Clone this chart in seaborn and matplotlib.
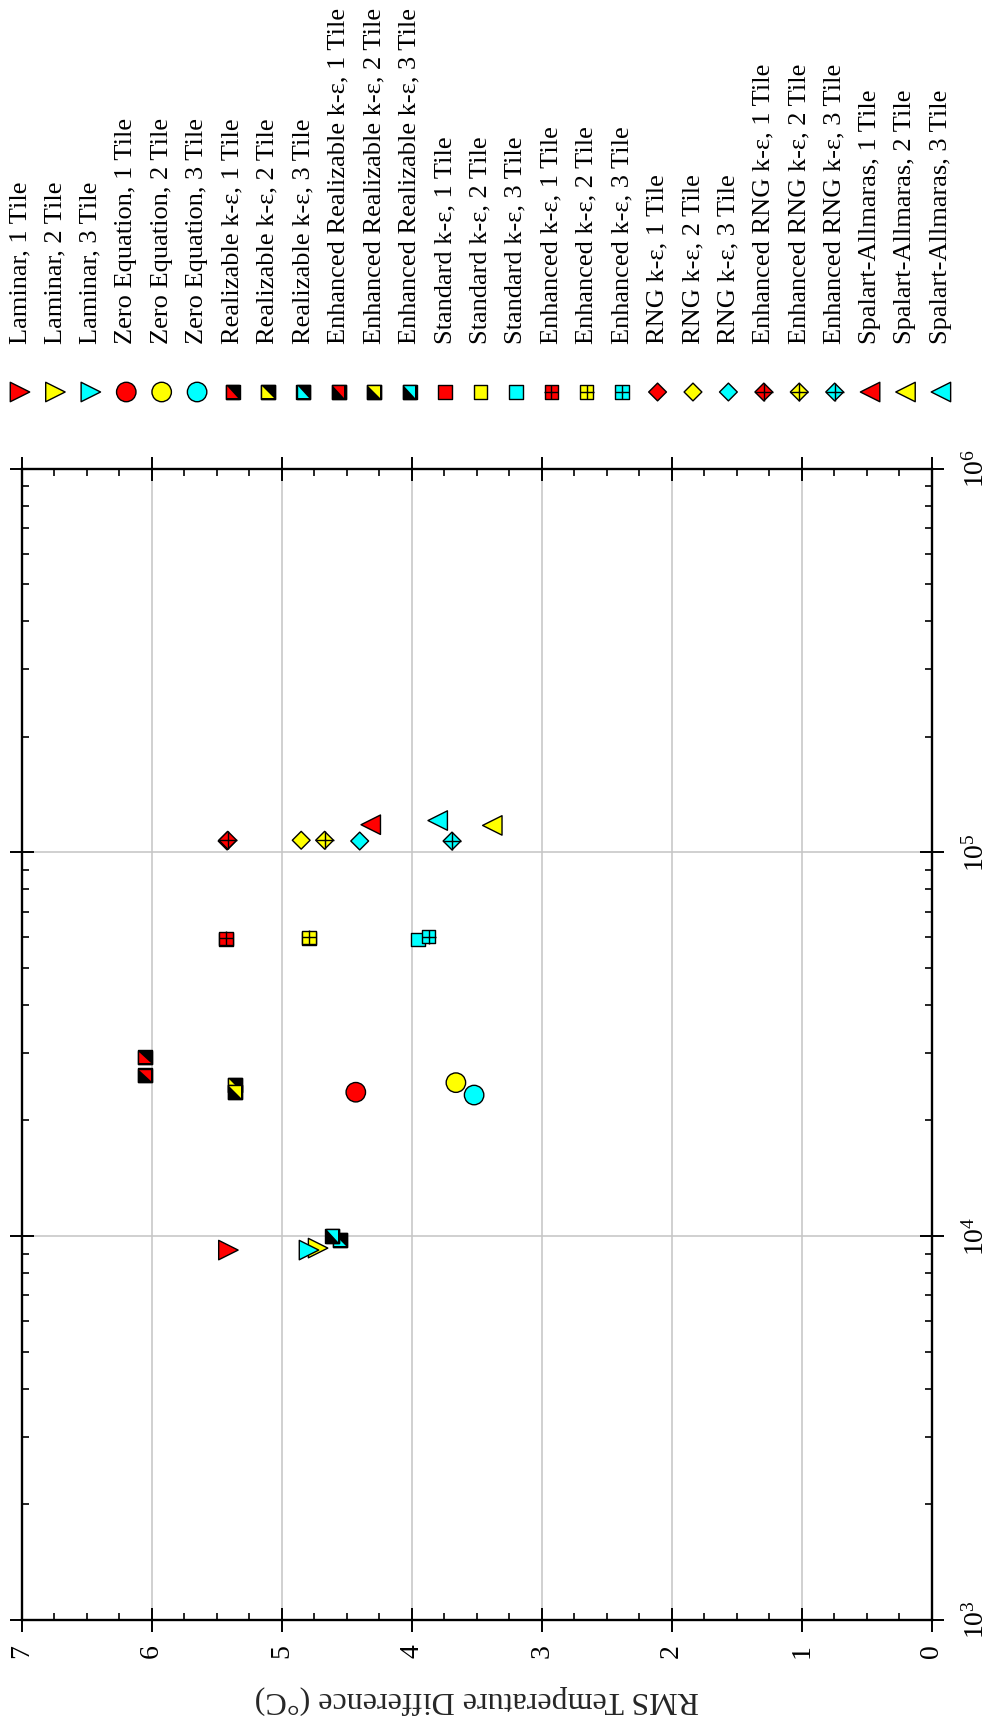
import numpy as np
import pandas as pd
import matplotlib
matplotlib.use("Agg")
import matplotlib.pyplot as plt
from matplotlib.path import Path
from matplotlib.ticker import MultipleLocator, LogLocator, NullFormatter
import seaborn as sns

# ---------------------------------------------------------------- data
tiles = ["1 Tile", "2 Tile", "3 Tile"]
tile_colors = ["#ff0000", "#ffff00", "#00ffff"]

model_names = ["Laminar", "Zero Equation", "Realizable k-\u03b5",
               "Enhanced Realizable k-\u03b5", "Standard k-\u03b5",
               "Enhanced k-\u03b5", "RNG k-\u03b5", "Enhanced RNG k-\u03b5",
               "Spalart-Allmaras"]
model_kinds = ["tri_right", "circle", "half_low", "half_up", "square",
               "square_plus", "diamond", "diamond_plus", "tri_left"]

# Reynolds number and RMS temperature difference (degC), tiles 1, 2, 3
laminar_re = [9.19e3, 9.30e3, 9.19e3]
laminar_rms = [5.41, 4.72, 4.79]
zero_eq_re = [2.37e4, 2.51e4, 2.33e4]
zero_eq_rms = [4.43, 3.66, 3.52]
realizable_re = [2.92e4, 2.475e4, 9.77e3]
realizable_rms = [6.05, 5.36, 4.55]
enh_realizable_re = [2.62e4, 2.37e4, 1.00e4]
enh_realizable_rms = [6.05, 5.36, 4.61]
standard_re = [5.92e4, 5.97e4, 5.92e4]
standard_rms = [5.43, 4.79, 3.95]
enh_standard_re = [5.97e4, 6.00e4, 6.03e4]
enh_standard_rms = [5.43, 4.79, 3.87]
rng_re = [1.07e5, 1.075e5, 1.07e5]
rng_rms = [5.42, 4.85, 4.40]
enh_rng_re = [1.075e5, 1.075e5, 1.07e5]
enh_rng_rms = [5.415, 4.67, 3.69]
sa_re = [1.18e5, 1.175e5, 1.21e5]
sa_rms = [4.315, 3.38, 3.80]

model_re = [laminar_re, zero_eq_re, realizable_re, enh_realizable_re,
            standard_re, enh_standard_re, rng_re, enh_rng_re, sa_re]
model_rms = [laminar_rms, zero_eq_rms, realizable_rms, enh_realizable_rms,
             standard_rms, enh_standard_rms, rng_rms, enh_rng_rms, sa_rms]

rms_ticks = [0, 1, 2, 3, 4, 5, 6, 7]
rms_tick_labels = ["0", "1", "2", "3", "4", "5", "6", "7"]
re_ticks = [1e3, 1e4, 1e5, 1e6]
re_tick_labels = [r"$10^{3}$", r"$10^{4}$", r"$10^{5}$", r"$10^{6}$"]
rms_label = "RMS Temperature Difference (\u00b0C)"

# ---------------------------------------------------------------- style
sns.set_style("white")
plt.rcParams["font.family"] = ["Liberation Serif", "DejaVu Serif"]
plt.rcParams["mathtext.fontset"] = "custom"
plt.rcParams["mathtext.rm"] = "Liberation Serif"
plt.rcParams["mathtext.it"] = "Liberation Serif:italic"
plt.rcParams["mathtext.bf"] = "Liberation Serif:bold"

EDGE_LW = 1.0
S_TRI = 196
S_CIRC = 196
S_SQ = 94
S_DIA = 82
S_DIA_PLUS = 164

# triangles covering half of a square, split along the "\" diagonal
LOWER_LEFT = Path([(-1, 1), (-1, -1), (1, -1), (-1, 1)],
                  [Path.MOVETO, Path.LINETO, Path.LINETO, Path.CLOSEPOLY])
UPPER_RIGHT = Path([(-1, 1), (1, 1), (1, -1), (-1, 1)],
                   [Path.MOVETO, Path.LINETO, Path.LINETO, Path.CLOSEPOLY])


def draw_markers(ax, xs, ys, kind, z=3):
    df = pd.DataFrame({"x": xs, "y": ys, "tile": tiles[:len(xs)]})
    pal = dict(zip(tiles, tile_colors))

    def colored(marker, s, lw=EDGE_LW, ec="black"):
        sns.scatterplot(data=df, x="x", y="y", hue="tile", palette=pal,
                        marker=marker, s=s, edgecolor=ec, linewidth=lw,
                        legend=False, ax=ax, zorder=z, clip_on=False)

    if kind == "tri_right":
        colored(">", S_TRI)
    elif kind == "tri_left":
        colored("<", S_TRI)
    elif kind == "circle":
        colored("o", S_CIRC)
    elif kind == "square":
        colored("s", S_SQ)
    elif kind == "diamond":
        colored("D", S_DIA)
    elif kind == "square_plus":
        colored("s", S_SQ)
        ax.scatter(df["x"], df["y"], marker="+", s=S_SQ, c="black",
                   linewidths=EDGE_LW, zorder=z, clip_on=False)
    elif kind == "diamond_plus":
        colored("D", S_DIA)
        ax.scatter(df["x"], df["y"], marker="+", s=S_DIA_PLUS, c="black",
                   linewidths=EDGE_LW, zorder=z, clip_on=False)
    elif kind in ("half_low", "half_up"):
        sns.scatterplot(data=df, x="x", y="y", color="black", marker="s",
                        s=S_SQ, edgecolor="black", linewidth=EDGE_LW,
                        legend=False, ax=ax, zorder=z, clip_on=False)
        tri = LOWER_LEFT if kind == "half_low" else UPPER_RIGHT
        colored(tri, S_SQ * 0.72, lw=0, ec="none")
        ax.scatter(df["x"], df["y"], marker="s", s=S_SQ, facecolors="none",
                   edgecolors="black", linewidths=EDGE_LW, zorder=z,
                   clip_on=False)


# ---------------------------------------------------------------- figure
W, H = 996, 1726
fig = plt.figure(figsize=(W / 100, H / 100), dpi=100)

ax_l, ax_r, ax_t, ax_b = 21.7, 931.7, 468.6, 1619.7
ax = fig.add_axes([ax_l / W, 1 - ax_b / H, (ax_r - ax_l) / W,
                   (ax_b - ax_t) / H])

for i, (kind, xs, ys) in enumerate(zip(model_kinds, model_rms, model_re)):
    draw_markers(ax, xs, ys, kind, z=3 + i * 0.1)

ax.set_yscale("log")
ax.set_xlim(7, 0)
ax.set_ylim(1e3, 1e6)
ax.set_xticks(rms_ticks)
ax.set_xticklabels(rms_tick_labels)
ax.xaxis.set_minor_locator(MultipleLocator(0.25))
ax.set_yticks(re_ticks)
ax.set_yticklabels(re_tick_labels)
ax.yaxis.set_minor_locator(LogLocator(base=10, subs=np.arange(2, 10)))
ax.yaxis.set_minor_formatter(NullFormatter())

ax.grid(True, which="major", color="#c4c4c4", linewidth=1.1)
ax.set_axisbelow(True)
for sp in ax.spines.values():
    sp.set_linewidth(1.7)
    sp.set_color("black")
    sp.set_zorder(10)

ax.tick_params(which="major", direction="inout", length=16.8, width=1.4,
               top=True, bottom=True, left=True, right=True,
               labelleft=False, labelright=True, labelbottom=True,
               labeltop=False, labelsize=20, colors="black")
ax.tick_params(which="minor", direction="in", length=5, width=1.4,
               top=True, bottom=True, left=True, right=True)
ax.tick_params(axis="x", which="major", labelrotation=90, pad=9)
ax.tick_params(axis="y", which="major", labelrotation=90, pad=14)
for lab in ax.get_yticklabels():
    lab.set_va("center")
    lab.set_ha("left")

ax.set_ylabel("")
ax.set_xlabel(rms_label, fontsize=23, rotation=180, va="center")
ax.xaxis.set_label_coords(0.5, (ax_b - 1700) / (ax_b - ax_t))

# ---------------------------------------------------------------- legend
leg_h = 420
ax_leg = fig.add_axes([0, 1 - leg_h / H, 1, leg_h / H])
ax_leg.set_xlim(0, W)
ax_leg.set_ylim(leg_h, 0)
ax_leg.axis("off")

x0, dx, y_mark, y_text = 20.0, 35.42, 392, 344
k = 0
for name, kind in zip(model_names, model_kinds):
    xs = [x0 + dx * (k + j) for j in range(3)]
    draw_markers(ax_leg, xs, [y_mark] * 3, kind)
    for j, t in enumerate(tiles):
        ax_leg.text(xs[j], y_text, f"{name}, {t}", rotation=90,
                    rotation_mode="anchor", ha="left", va="center",
                    fontsize=19, color="black")
    k += 3
ax_leg.set_xlabel("")
ax_leg.set_ylabel("")

fig.savefig("out.png", dpi=100)
